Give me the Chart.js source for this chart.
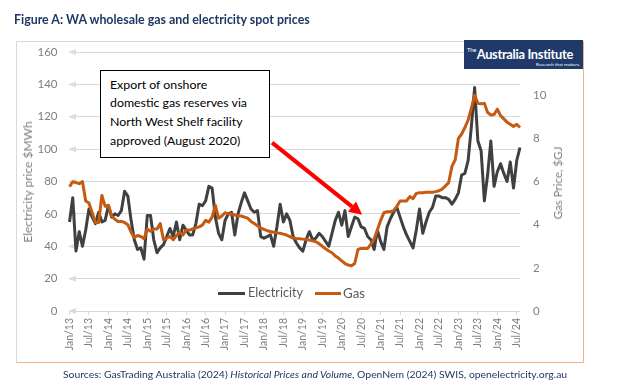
<!DOCTYPE html>
<html>
<head>
<meta charset="utf-8">
<script src="https://cdn.jsdelivr.net/npm/chart.js@4/dist/chart.umd.min.js"></script>
<style>
html,body{margin:0;padding:0;background:#fff;width:629px;height:390px;overflow:hidden;font-family:Lato,"Open Sans",sans-serif;}
.abs{position:absolute;white-space:nowrap;}
#frame{position:absolute;left:16px;top:41px;width:568px;height:322px;box-sizing:border-box;border:1px solid #d9d9d9;border-right-color:#f4b183;border-bottom-color:#f4b183;}
#c{position:absolute;left:0;top:0;}
#title{left:14px;top:10px;line-height:20px;font-size:15px;font-weight:bold;color:#1f3864;}
.rot{position:absolute;white-space:nowrap;color:#7f7f7f;font-size:12px;line-height:14px;transform:translate(-50%,-50%) rotate(-90deg);}
#ytl{left:28px;top:182px;}
#ytr{left:558px;top:183px;}
#note{position:absolute;left:100px;top:70px;width:170px;height:88px;box-sizing:border-box;border:1px solid #000;background:#fff;padding:4.6px 0 0 9px;font-size:13px;color:#000;}
#note .ln{line-height:18.7px;white-space:nowrap;}
#note .ln span{display:inline-block;}
.lg-line{position:absolute;height:3px;}
.lg-text{position:absolute;line-height:16px;top:285px;font-size:12.5px;color:#595959;white-space:nowrap;}
#logo{position:absolute;left:464px;top:40px;width:119px;height:29px;background:#1f3a68;color:#fff;}
#logoMain{position:absolute;right:10px;top:6px;line-height:16px;font-weight:bold;font-size:13px;white-space:nowrap;letter-spacing:-0.3px;}
#logoMain sup{font-size:6px;font-weight:normal;vertical-align:top;line-height:8px;margin-right:0.5px;}
#logoTag{position:absolute;right:3px;top:21px;font-size:5.5px;line-height:7px;white-space:nowrap;}
#src{left:63px;top:366px;line-height:16px;font-size:12px;color:#1f3864;}
</style>
</head>
<body>
<div id="frame"></div>
<canvas id="c" width="629" height="390"></canvas>
<div id="title" class="abs">Figure A: WA wholesale gas and electricity spot prices</div>
<div id="ytl" class="rot">Electricity price $MWh</div>
<div id="ytr" class="rot">Gas Price, $GJ</div>
<div id="note">
  <div class="ln"><span>Export of onshore</span></div>
  <div class="ln"><span id="ln2">domestic gas reserves via</span></div>
  <div class="ln"><span>North West Shelf facility</span></div>
  <div class="ln"><span>approved (August 2020)</span></div>
</div>
<div id="legend"></div>
<div id="logo"><span id="logoMain"><sup>The</sup>Australia Institute</span><span id="logoTag">Research that matters.</span></div>
<div id="src" class="abs">Sources: GasTrading Australia (2024) <i>Historical Prices and Volume</i>, OpenNem (2024) SWIS, openelectricity.org.au</div>
<script>
// ---- Data (monthly, Jan 2013 - Aug 2024) ----
const monthNames = ['Jan','Feb','Mar','Apr','May','Jun','Jul','Aug','Sep','Oct','Nov','Dec'];
const firstYear = 2013;
const electricity = [
 55,70,37,49,40,50,63,58,54,61,55,56,
 65,58,60,59,62,74,71,56,44,38,39,32,
 59,59,44,36,39,41,46,51,46,55,44,53,
 50,47,47,54,66,65,68,77,76,58,48,44,
 56,60,61,47,60,67,73,68,63,61,62,46,
 45,46,47,40,52,66,55,60,56,46,42,39,
 37,44,49,44,45,48,46,43,40,48,56,61,
 53,62,46,52,58,57,52,51,46,44,38,50,
 43,38,52,57,61,64,58,52,47,43,39,50,
 63,48,55,61,64,71,71,70,70,69,66,69,
 73,84,85,93,114,138,105,99,68,84,105,77,
 86,91,85,80,92,76,93,101
];
const gas = [
 5.76,5.99,5.95,5.9,6.0,5.1,5.0,4.55,4.1,4.1,5.35,4.85,
 4.9,4.4,4.25,4.15,4.15,4.1,4.0,3.65,3.4,3.5,3.45,3.35,
 3.8,3.7,3.8,3.8,4.05,3.3,3.37,3.45,3.3,3.5,3.65,3.52,
 3.75,3.75,3.8,3.85,3.9,3.98,4.2,4.12,4.35,4.9,4.3,4.4,
 4.55,4.5,4.5,4.45,4.4,4.4,4.35,4.3,4.15,4.05,3.95,3.85,
 3.78,3.72,3.68,3.65,3.62,3.6,3.56,3.52,3.45,3.38,3.36,3.35,
 3.33,3.31,3.29,3.25,3.21,3.12,3.0,2.88,2.78,2.7,2.55,2.45,
 2.32,2.2,2.13,2.1,2.2,2.85,2.9,2.9,2.9,3.1,3.35,3.75,
 4.2,4.55,4.6,4.6,4.65,4.85,5.1,5.1,5.1,5.3,5.2,5.45,
 5.48,5.48,5.5,5.5,5.5,5.53,5.57,5.65,5.8,5.95,6.7,7.0,
 8.0,8.2,8.5,8.85,9.4,10.0,9.62,9.6,9.62,9.2,9.08,9.1,
 9.35,9.05,8.9,8.75,8.65,8.55,8.65,8.5
];
const categories = electricity.map((_, i) =>
  monthNames[i % 12] + '/' + String((firstYear + Math.floor(i / 12)) % 100).padStart(2, '0'));
const seriesNames = ['Electricity', 'Gas'];
const elecTicks = [0, 160, 20];   // min, max, step
const gasTicks = [0, 12, 2];
// annotation arrow anchors: [category index, electricity value]
const arrowTail = [62.5, 104];
const arrowHead = [90.3, 59.5];

const GRID = '#d9d9d9', TICK = '#7f7f7f';
const COLORS = ['#404040', '#c55a11'];

const gridArrows = {
  id: 'gridArrows',
  beforeDatasetsDraw(chart) {
    const {ctx, chartArea, scales: {y}} = chart;
    ctx.save();
    ctx.fillStyle = '#dcdcdc';
    y.ticks.forEach(t => {
      const py = y.getPixelForValue(t.value);
      ctx.beginPath();
      ctx.moveTo(chartArea.left - 1.5, py);
      ctx.lineTo(chartArea.left + 6.5, py - 3);
      ctx.lineTo(chartArea.left + 6.5, py + 3);
      ctx.closePath();
      ctx.fill();
    });
    ctx.restore();
  }
};

const noteArrow = {
  id: 'noteArrow',
  afterDatasetsDraw(chart) {
    const {ctx, scales: {x, y}} = chart;
    const x0 = x.getPixelForValue(arrowTail[0]), y0 = y.getPixelForValue(arrowTail[1]);
    const x1 = x.getPixelForValue(arrowHead[0]), y1 = y.getPixelForValue(arrowHead[1]);
    const a = Math.atan2(y1 - y0, x1 - x0);
    const hl = 13, hw = 6.5;
    const bx = x1 - hl * Math.cos(a), by = y1 - hl * Math.sin(a);
    ctx.save();
    ctx.strokeStyle = '#ff0000';
    ctx.fillStyle = '#ff0000';
    ctx.lineWidth = 4;
    ctx.beginPath(); ctx.moveTo(x0, y0); ctx.lineTo(bx, by); ctx.stroke();
    ctx.beginPath();
    ctx.moveTo(x1, y1);
    ctx.lineTo(bx + hw * Math.sin(a), by - hw * Math.cos(a));
    ctx.lineTo(bx - hw * Math.sin(a), by + hw * Math.cos(a));
    ctx.closePath(); ctx.fill();
    ctx.restore();
  }
};

const chart = new Chart(document.getElementById('c'), {
  type: 'line',
  data: {
    labels: categories,
    datasets: [
      {label: seriesNames[0], data: electricity, yAxisID: 'y', borderColor: COLORS[0], backgroundColor: COLORS[0],
       borderWidth: 3, pointRadius: 0, tension: 0, order: 2, borderJoinStyle: 'round'},
      {label: seriesNames[1], data: gas, yAxisID: 'y1', borderColor: COLORS[1], backgroundColor: COLORS[1],
       borderWidth: 3, pointRadius: 0, tension: 0, order: 1, borderJoinStyle: 'round'}
    ]
  },
  options: {
    responsive: false,
    animation: false,
    layout: {padding: {left: 20, right: 63, top: 52, bottom: 39}},
    plugins: {legend: {display: false}, tooltip: {enabled: false}},
    scales: {
      x: {
        type: 'category', offset: false,
        grid: {display: true, drawOnChartArea: false, drawTicks: true, tickLength: 4, color: GRID},
        border: {display: false},
        ticks: {autoSkip: false, maxRotation: 90, minRotation: 90, padding: 3, color: TICK,
                font: {family: 'Lato', size: 10.5}},
        afterBuildTicks(s) { s.ticks = s.ticks.filter(t => t.value % 6 === 0); },
        afterFit(s) { s.height = 40; }
      },
      y: {
        position: 'left', min: elecTicks[0], max: elecTicks[1],
        ticks: {stepSize: elecTicks[2], padding: 12, color: TICK, font: {family: 'Lato', size: 11.5}},
        grid: {color: GRID, drawTicks: false, lineWidth: 1},
        border: {display: false},
        afterFit(s) { s.width = 49.5; }
      },
      y1: {
        position: 'right', min: gasTicks[0], max: gasTicks[1],
        ticks: {stepSize: gasTicks[2], padding: 13, color: TICK, font: {family: 'Lato', size: 11.5}},
        grid: {drawOnChartArea: false, drawTicks: false},
        border: {display: false},
        afterFit(s) { s.width = 46; }
      }
    }
  },
  plugins: [gridArrows, noteArrow]
});

// legend built from datasets
const legendPos = [[218, 27, 248], [315, 26, 343]];
const lg = document.getElementById('legend');
chart.data.datasets.forEach((ds, i) => {
  const ln = document.createElement('div');
  ln.className = 'lg-line';
  ln.style.left = legendPos[i][0] + 'px'; ln.style.top = '291.5px';
  ln.style.width = legendPos[i][1] + 'px'; ln.style.background = ds.borderColor;
  lg.appendChild(ln);
  const tx = document.createElement('div');
  tx.className = 'lg-text'; tx.id = 'lg' + i;
  tx.style.left = legendPos[i][2] + 'px';
  tx.textContent = ds.label;
  lg.appendChild(tx);
});

function fit(el, w) {
  const fs = parseFloat(getComputedStyle(el).fontSize);
  const cw = el.getBoundingClientRect().width;
  if (cw > 0) el.style.fontSize = (fs * w / cw) + 'px';
}
function fitW(el, w) {
  const fs = parseFloat(getComputedStyle(el).fontSize);
  const cw = el.offsetWidth;
  if (cw > 0) el.style.fontSize = (fs * w / cw) + 'px';
}
fit(document.getElementById('title'), 296);
fit(document.getElementById('src'), 505);
fitW(document.getElementById('ytl'), 121);
fitW(document.getElementById('ytr'), 73);
fit(document.getElementById('lg0'), 55);
fit(document.getElementById('lg1'), 22);
(function(){
  const l2 = document.getElementById('ln2');
  const fs = parseFloat(getComputedStyle(l2).fontSize);
  const w = l2.getBoundingClientRect().width;
  document.getElementById('note').style.fontSize = (fs * 137 / w) + 'px';
})();
fit(document.getElementById('logoMain'), 106);
fit(document.getElementById('logoTag'), 44);
</script>
</body>
</html>
